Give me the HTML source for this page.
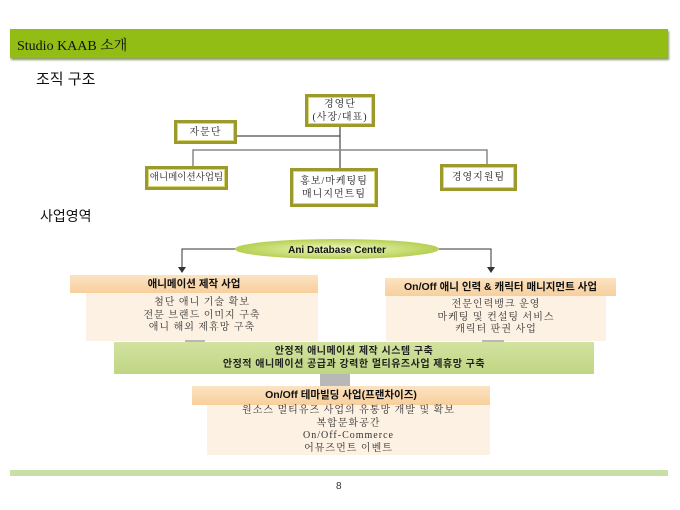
<!DOCTYPE html>
<html><head><meta charset="utf-8"><style>
body{margin:0;width:680px;height:510px;background:#fff;position:relative;overflow:hidden;font-family:"Liberation Sans","Noto Sans CJK KR",sans-serif;}
.a{position:absolute;}
.bx{position:absolute;background:#fff;border:3px solid #9c9a2a;box-shadow:inset 0 0 0 1px #d8d878;font-size:10px;color:#222;display:flex;align-items:center;justify-content:center;text-align:center;line-height:13px;box-sizing:border-box;font-family:"Liberation Serif","Noto Serif CJK SC",serif;letter-spacing:1px;white-space:nowrap;}
.hd{position:absolute;background:linear-gradient(#fbe3c2,#f7cf9c);font-weight:bold;font-size:10.5px;text-align:center;color:#111;box-sizing:border-box;}
.bd{position:absolute;background:#fdf1e3;font-size:10px;text-align:center;color:#333;line-height:12.5px;font-family:"Liberation Serif","Noto Serif CJK SC",serif;letter-spacing:1px;}
</style></head><body>
<div class="a" style="left:10px;top:29px;width:658px;height:29px;background:#92bd14;box-shadow:1px 2px 2px #8a9a60;"></div>
<div class="a" style="left:17px;top:35px;font-size:14px;font-family:'Liberation Serif','Noto Serif CJK SC',serif;color:#111;">Studio KAAB 소개</div>
<div class="a" style="left:36px;top:68px;font-size:15px;color:#111;">조직 구조</div>

<svg class="a" style="left:0;top:0" width="680" height="510">
<line x1="237" y1="136" x2="340" y2="136" stroke="#222" stroke-width="1"/>
<line x1="340" y1="127" x2="340" y2="168" stroke="#222" stroke-width="1"/>
<polyline points="193,166 193,150 487,150 487,165" fill="none" stroke="#888" stroke-width="1.5"/>
<defs><radialGradient id="eg" cx="50%" cy="50%" r="50%"><stop offset="0" stop-color="#f0f8c8"/><stop offset="1" stop-color="#b6d050"/></radialGradient></defs>
<polyline points="237,249 182,249 182,268" fill="none" stroke="#333" stroke-width="1"/>
<polygon points="178,267 186,267 182,273" fill="#333"/>
<polyline points="438,249 491,249 491,268" fill="none" stroke="#333" stroke-width="1"/>
<polygon points="487,267 495,267 491,273" fill="#333"/>
<ellipse cx="337" cy="249" rx="102" ry="10" fill="url(#eg)"/>
<text x="337" y="253" text-anchor="middle" font-size="10" font-weight="bold" font-family="Liberation Sans, sans-serif" fill="#111">Ani Database Center</text>
</svg>

<div class="bx" style="left:305px;top:94px;width:70px;height:33px;">경영단<br>(사장/대표)</div>
<div class="bx" style="left:174px;top:120px;width:63px;height:24px;">자문단</div>
<div class="bx" style="left:145px;top:166px;width:83px;height:24px;font-size:9.5px;letter-spacing:0;">애니메이션사업팀</div>
<div class="bx" style="left:290px;top:168px;width:88px;height:39px;">홍보/마케팅팀<br>매니지먼트팀</div>
<div class="bx" style="left:440px;top:164px;width:77px;height:27px;">경영지원팀</div>

<div class="a" style="left:40px;top:206px;font-size:14px;color:#111;">사업영역</div>

<div class="hd" style="left:70px;top:275px;width:248px;height:18px;line-height:18px;">애니메이션 제작 사업</div>
<div class="bd" style="left:86px;top:293px;width:232px;height:48px;padding-top:4px;box-sizing:border-box;">첨단 애니 기술 확보<br>전문 브랜드 이미지 구축<br>애니 해외 제휴망 구축</div>
<div class="hd" style="left:385px;top:278px;width:231px;height:18px;line-height:18px;">On/Off 애니 인력 &amp; 캐릭터 매니지먼트 사업</div>
<div class="bd" style="left:386px;top:296px;width:220px;height:45px;padding-top:3px;box-sizing:border-box;">전문인력뱅크 운영<br>마케팅 및 컨설팅 서비스<br>캐릭터 판권 사업</div>
<div class="a" style="left:185px;top:340px;width:20px;height:6px;background:#b8b8b8;"></div>
<div class="a" style="left:482px;top:340px;width:22px;height:6px;background:#b8b8b8;"></div>
<div class="a" style="left:114px;top:342px;width:480px;height:32px;background:linear-gradient(#d2e2a0,#c0d684);font-size:10px;font-weight:bold;text-align:center;line-height:13px;padding-top:3px;box-sizing:border-box;color:#222;letter-spacing:0.5px;">안정적 애니메이션 제작 시스템 구축<br>안정적 애니메이션 공급과 강력한 멀티유즈사업 제휴망 구축</div>
<div class="a" style="left:320px;top:374px;width:30px;height:12px;background:#b8b8b8;"></div>
<div class="hd" style="left:192px;top:386px;width:298px;height:19px;line-height:19px;">On/Off 테마빌딩 사업(프랜차이즈)</div>
<div class="bd" style="left:207px;top:405px;width:283px;height:50px;padding-top:0px;box-sizing:border-box;">원소스 멀티유즈 사업의 유통망 개발 및 확보<br>복합문화공간<br>On/Off-Commerce<br>어뮤즈먼트 이벤트</div>

<div class="a" style="left:10px;top:470px;width:658px;height:6px;background:#c8e0a8;"></div>
<div class="a" style="left:336px;top:481px;font-size:10px;color:#333;">8</div>
</body></html>
